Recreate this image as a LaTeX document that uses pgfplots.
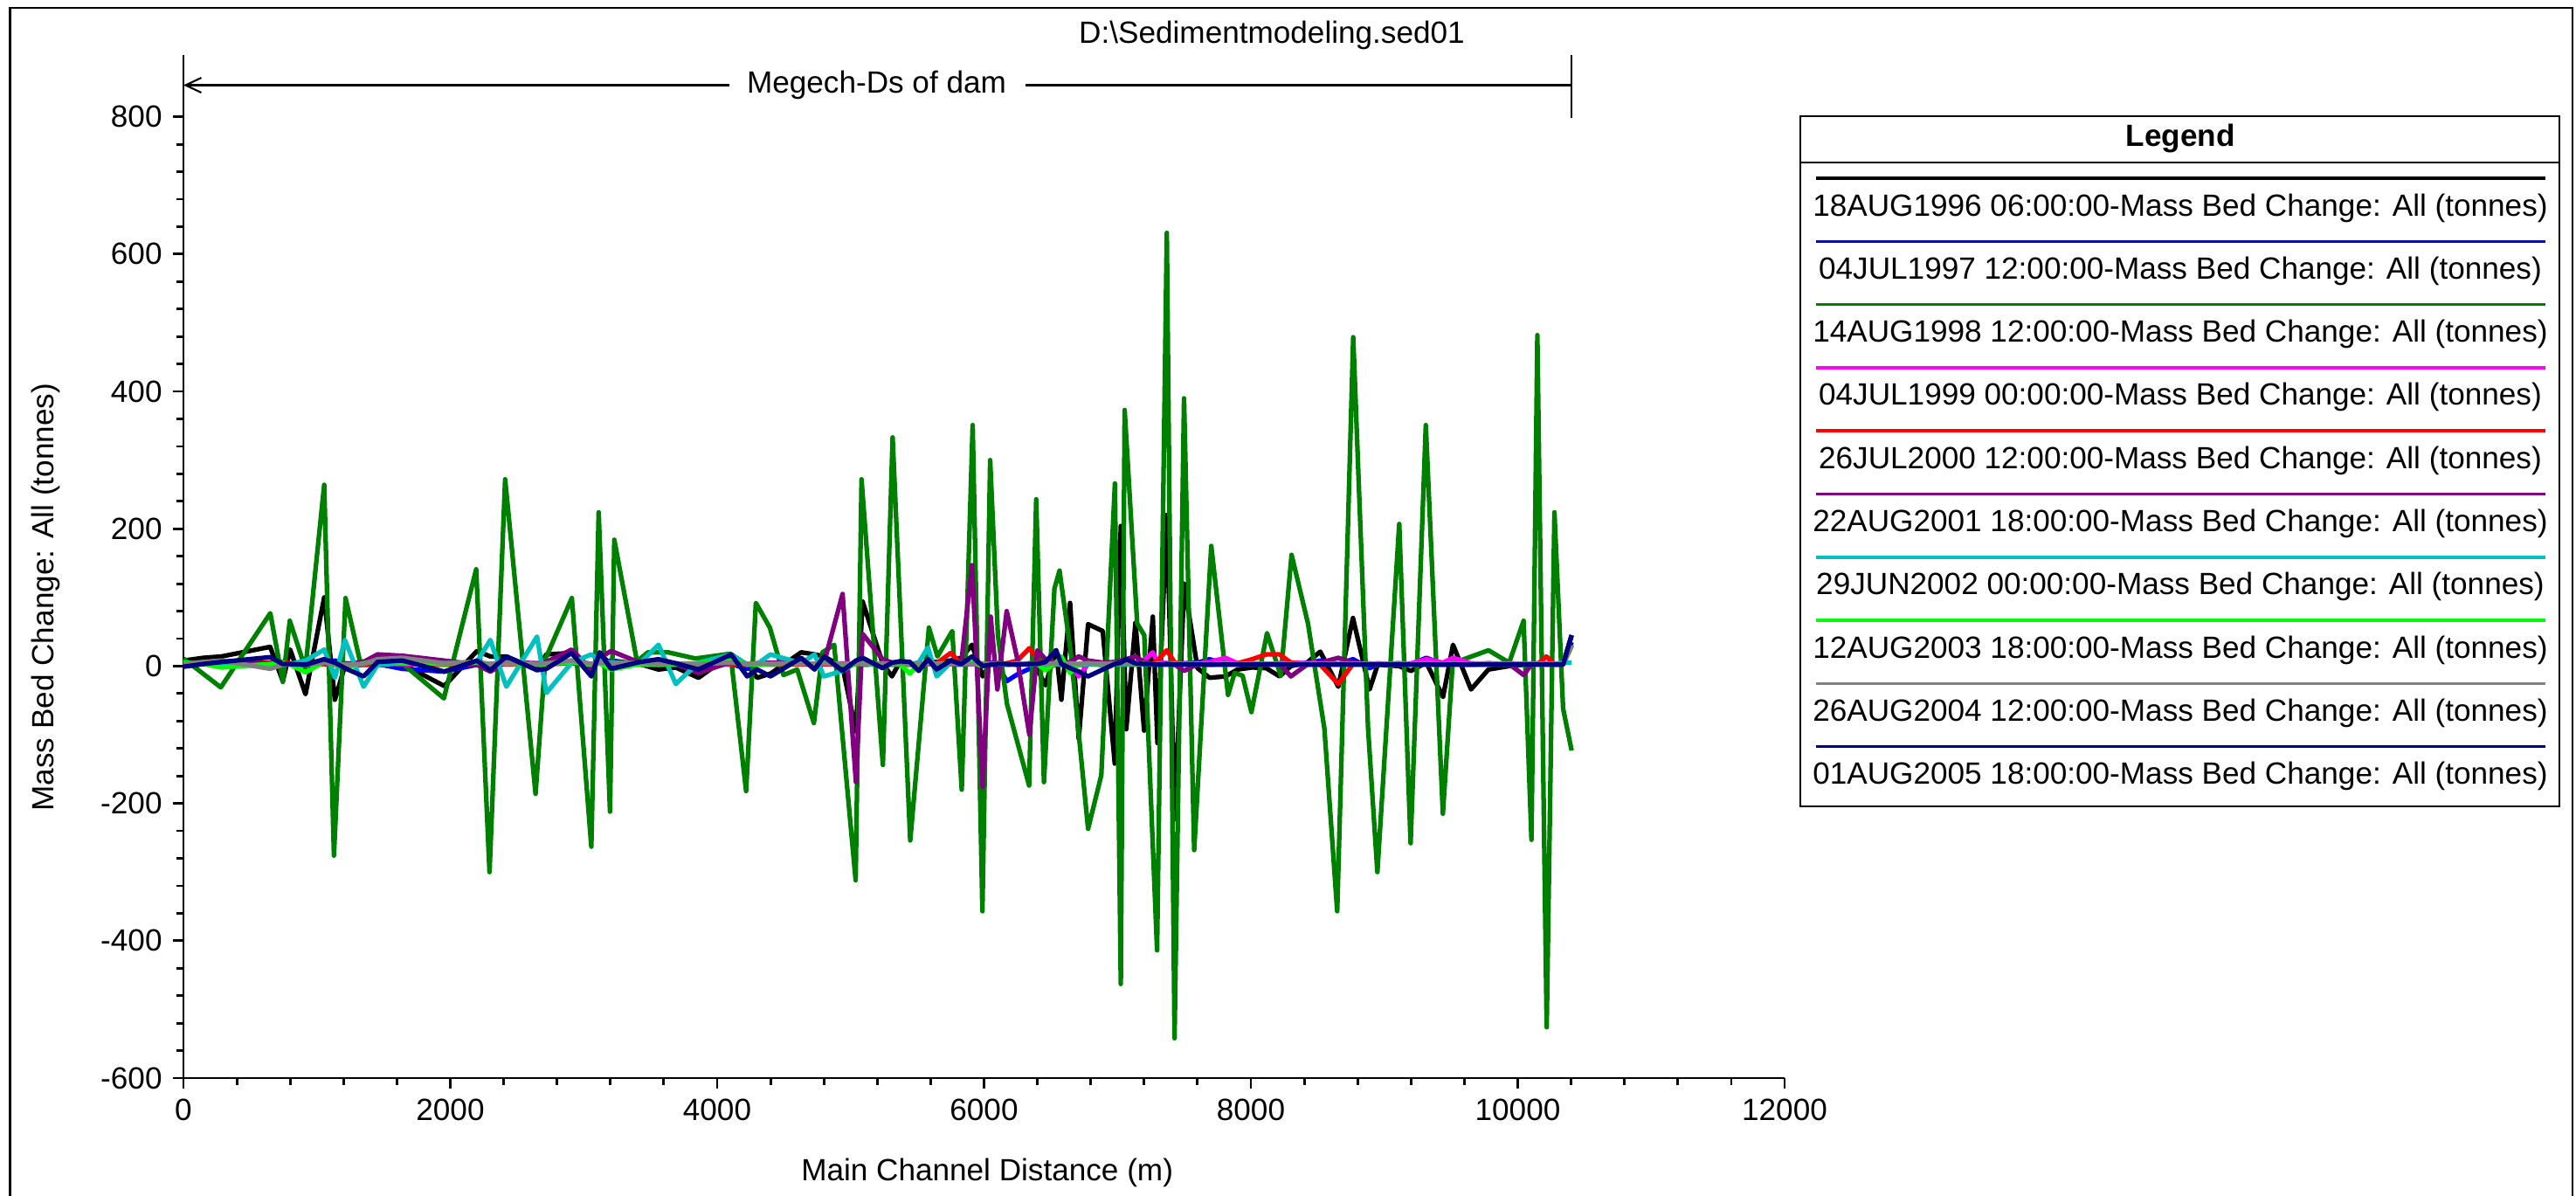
\documentclass[border=0pt]{standalone}
\usepackage{fontspec}
\setmainfont{Liberation Sans}
\usepackage{pgfplots}
\pgfplotsset{compat=1.18}
\usepackage{pgfplotstable}
\usetikzlibrary{arrows.meta}

\definecolor{sblue}{RGB}{0,0,255}
\definecolor{sgreen}{RGB}{0,128,0}
\definecolor{smagenta}{RGB}{255,0,255}
\definecolor{sred}{RGB}{255,0,0}
\definecolor{spurple}{RGB}{128,0,128}
\definecolor{scyan}{RGB}{0,192,192}
\definecolor{slime}{RGB}{0,255,0}
\definecolor{sgray}{RGB}{128,128,128}
\definecolor{snavy}{RGB}{0,0,128}

% small series: k=1996 b=1997 m=1999 r=2000 p=2001 c=2002 l=2003 g=2004 n=2005
\pgfplotstableread{
x k b m r p c l g n
0 8 3 2 2 5 5 5 3 -1
150 12 4 3 3 5 3 3 6 3
285 14 6 4 4 5 2 -2 8 6
650 28 5 3 5 4 0 3 -4 13
745 -22 3 4 6 3 2 5 2 3
800 24 3 3 4 3 3 2 3 3
915 -41 2 2 2 2 8 -9 2 2
1055 100 6 4 3 4 24 6 5 10
1135 -49 8 3 2 3 -17 2 3 5
1210 0 4 3 3 3 38 -2 2 -3
1350 2 3 2 2 6 -30 4 3 -15
1455 2 3 4 3 17 2 8 10 6
1640 3 -4 3 4 15 4 5 12 8
1955 -29 -8 2 2 8 4 3 4 -8
2200 22 2 3 3 2 6 5 6 8
2300 14 3 2 2 -8 38 3 3 -6
2420 14 5 3 3 6 -30 4 5 14
2650 -5 2 4 2 4 43 2 3 -6
2720 17 3 3 3 6 -39 3 4 -4
2910 19 8 5 4 24 5 6 8 19
3057 -13 3 3 3 -5 17 2 3 -15
3120 17 5 4 4 12 8 4 5 20
3205 3 8 3 3 22 5 -5 4 -4
3420 3 3 3 2 5 4 3 5 6
3560 -5 2 2 3 4 31 2 3 10
3690 -2 1 3 2 3 -26 3 4 4
3860 -17 0 2 3 -10 5 4 3 -5
4105 17 3 3 3 6 17 8 5 17
4225 2 -4 2 2 3 2 3 3 -15
4300 -17 2 3 3 4 3 2 4 -5
4400 -11 3 4 2 5 17 3 3 -15
4630 20 3 3 3 4 4 4 5 12
4730 17 2 2 2 3 17 3 3 -5
4800 14 3 3 3 4 -15 5 4 14
4940 -1 2 4 2 105 -7 2 3 -7
5040 -95 3 3 3 -169 5 3 4 8
5090 94 4 2 2 47 3 4 3 12
5240 4 3 3 3 10 3 2 4 -3
5310 -15 2 4 4 5 2 3 3 5
5375 8 3 3 3 4 4 2 4 7
5445 3 2 2 3 3 3 -11 3 6
5510 0 3 3 2 4 5 3 4 -7
5580 5 3 4 3 3 27 4 3 10
5645 6 2 3 4 4 -15 3 4 -5
5750 8 3 3 19 3 5 5 3 8
5830 12 2 4 3 5 3 4 4 3
5910 31 3 3 4 147 4 5 3 14
5990 -15 2 2 3 -176 3 0 4 0
6050 5 5 3 2 72 2 3 3 2
6100 4 3 4 3 -34 3 4 4 3
6170 2 -22 3 4 80 2 3 3 3
6250 3 -12 3 8 10 3 2 4 2
6340 3 -4 4 26 -100 2 4 3 3
6400 -5 3 3 10 23 3 3 4 3
6460 -28 2 2 -5 10 2 -6 3 6
6540 23 3 4 3 5 3 5 4 23
6580 -49 2 3 2 4 2 14 3 3
6645 92 3 5 3 6 3 -10 4 -3
6710 -106 2 -15 2 14 2 3 3 -8
6780 61 3 3 3 8 3 4 4 -15
6890 51 2 4 2 5 2 3 3 -5
6980 -142 3 3 3 6 3 4 4 3
7025 204 2 4 4 8 2 3 3 5
7066 -92 3 3 2 10 3 4 4 10
7135 63 2 5 3 14 2 3 3 4
7200 -94 3 8 3 6 3 4 4 3
7265 72 2 20 4 3 2 3 3 3
7300 -112 3 6 8 3 3 3 4 2
7370 220 4 4 23 2 2 3 3 3
7430 -223 3 3 5 2 3 2 4 2
7500 120 4 4 3 -7 2 3 3 2
7600 -3 5 3 3 3 3 2 4 2
7690 -17 10 6 2 4 2 3 3 2
7810 -15 3 12 3 3 3 2 4 2
7900 -5 4 4 4 3 2 3 3 2
8010 -2 3 3 10 3 3 2 4 2
8115 -3 2 3 17 3 2 3 3 2
8215 -15 3 4 17 3 3 2 4 2
8300 0 4 5 5 -15 2 3 3 2
8420 5 4 4 3 2 3 2 4 2
8520 21 8 5 2 5 2 3 3 2
8655 -30 3 3 -26 12 3 2 4 2
8765 70 10 4 3 5 2 3 3 2
8890 -34 -3 3 3 3 3 2 4 2
8950 2 3 4 2 3 2 3 3 2
9110 0 4 3 3 3 3 2 4 2
9200 -7 3 4 2 3 2 3 3 2
9315 5 12 10 3 3 3 2 4 2
9440 -45 3 5 2 3 2 3 3 2
9515 31 4 12 3 3 3 2 4 2
9650 -34 3 4 2 3 2 3 3 2
9780 -5 3 3 3 4 3 2 4 2
9935 0 4 4 2 3 2 3 3 2
10045 2 3 3 3 -13 3 2 4 2
10105 2 3 4 2 3 2 3 3 2
10150 3 4 3 3 3 3 2 4 2
10215 3 3 4 14 3 2 3 3 2
10275 2 3 3 3 3 3 2 4 2
10340 3 3 4 2 3 5 3 3 2
10404 45 35 30 30 30 5 30 30 45
}\smalldata

% 14AUG1998 series
\pgfplotstableread{
x y
0 11
280 -31
651 77
745 -23
797 66
914 -4
1055 264
1128 -276
1215 99
1323 7
1455 5
1645 3
1952 -47
2194 141
2294 -300
2411 272
2639 -186
2712 10
2911 99
3057 -263
3112 224
3197 -212
3229 184
3399 7
3481 20
3633 20
3837 11
4100 18
4217 -182
4290 92
4395 56
4497 -13
4600 -5
4725 -83
4789 20
4877 31
5038 -312
5082 272
5242 -144
5315 333
5447 -254
5587 56
5651 14
5762 51
5833 -180
5915 351
5988 -357
6046 300
6104 45
6172 -55
6338 -174
6391 243
6449 -169
6528 113
6566 139
6650 20
6780 -237
6879 -159
6981 266
7025 -463
7054 373
7148 62
7201 45
7297 -414
7370 631
7428 -542
7499 390
7575 -268
7703 175
7829 -42
7878 -10
7938 -14
8004 -67
8121 48
8224 -14
8305 162
8428 62
8551 -91
8647 -357
8767 479
8878 -90
8948 -300
9112 207
9197 -258
9311 351
9439 -215
9512 4
9781 23
9936 5
10044 66
10103 -253
10147 482
10217 -526
10275 224
10340 -62
10404 -123
}\greendata

\begin{document}
\begin{tikzpicture}
\useasboundingbox (-21mm,-13.5mm) rectangle (273.9mm,123.4mm);
% outer frame
\draw[line width=0.6pt] (-19.85mm,-13.5mm) -- (-19.85mm,122.5mm) -- (273.5mm,122.5mm) -- (273.5mm,-13.5mm);

\begin{axis}[
    scale only axis,
    width=183.3mm,
    height=117.1mm,
    xmin=0, xmax=12000,
    ymin=-600, ymax=890,
    axis x line*=bottom,
    axis y line*=left,
    axis line style={line width=0.8pt},
    tick align=outside,
    every tick/.style={black, line width=0.8pt},
    major tick length=1.2mm,
    minor tick length=0.8mm,
    xtick={0,2000,...,12000},
    minor xtick={400,800,...,11600},
    ytick={-600,-400,...,800},
    minor ytick={-560,-520,...,760},
    scaled x ticks=false,
    scaled y ticks=false,
    /pgf/number format/assume math mode=true,
    /pgf/number format/1000 sep={},
    xlabel={Main Channel Distance (m)},
    ylabel={Mass Bed Change: All (tonnes)},
    every axis x label/.style={at={(axis description cs:0.502,0)}, anchor=center, yshift=-10.8mm},
    every axis y label/.style={at={(axis description cs:-0.0862,0.47)}, anchor=center, rotate=90},
    clip=false,
    every axis plot/.append style={line width=1.5pt, line join=round},
]
\addplot[black] table[x=x,y=k]{\smalldata};
\addplot[sblue] table[x=x,y=b]{\smalldata};
\addplot[sgreen] table[x=x,y=y]{\greendata};
\addplot[smagenta] table[x=x,y=m]{\smalldata};
\addplot[sred] table[x=x,y=r]{\smalldata};
\addplot[spurple] table[x=x,y=p]{\smalldata};
\addplot[scyan] table[x=x,y=c]{\smalldata};
\addplot[slime] table[x=x,y=l]{\smalldata};
\addplot[sgray] table[x=x,y=g]{\smalldata};
\addplot[snavy] table[x=x,y=n]{\smalldata};

% reach annotation
\draw[line width=0.6pt, {Straight Barb[length=1.8mm,width=1.7mm]}-] (axis cs:0,846) -- (axis cs:4092,846);
\node at (axis cs:5195,846) {Megech-Ds of dam};
\draw[line width=0.6pt] (axis cs:6311,846) -- (axis cs:10404,846);
\draw[line width=0.6pt] (axis cs:10404,798) -- (axis cs:10404,890);
\end{axis}

% title
\node at (124.6mm,119.4mm) {D:\textbackslash Sedimentmodeling.sed01};

% legend
\draw[line width=0.6pt] (185.1mm,31.1mm) rectangle (272.0mm,110.1mm);
\draw[line width=0.6pt] (185.1mm,104.8mm) -- (272.0mm,104.8mm);
\node[font=\bfseries] at (228.6mm,107.5mm) {Legend};
\foreach \col/\lab [count=\i from 0] in {
    black/18AUG1996 06:00:00,
    sblue/04JUL1997 12:00:00,
    sgreen/14AUG1998 12:00:00,
    smagenta/04JUL1999 00:00:00,
    sred/26JUL2000 12:00:00,
    spurple/22AUG2001 18:00:00,
    scyan/29JUN2002 00:00:00,
    slime/12AUG2003 18:00:00,
    sgray/26AUG2004 12:00:00,
    snavy/01AUG2005 18:00:00} {
  \draw[\col, line width=1pt] (186.9mm,{(103.0-7.23*\i)*1mm}) -- (270.4mm,{(103.0-7.23*\i)*1mm});
  \node at (228.6mm,{(99.6-7.23*\i)*1mm}) {\lab-Mass Bed Change: All (tonnes)};
}
\end{tikzpicture}
\end{document}
